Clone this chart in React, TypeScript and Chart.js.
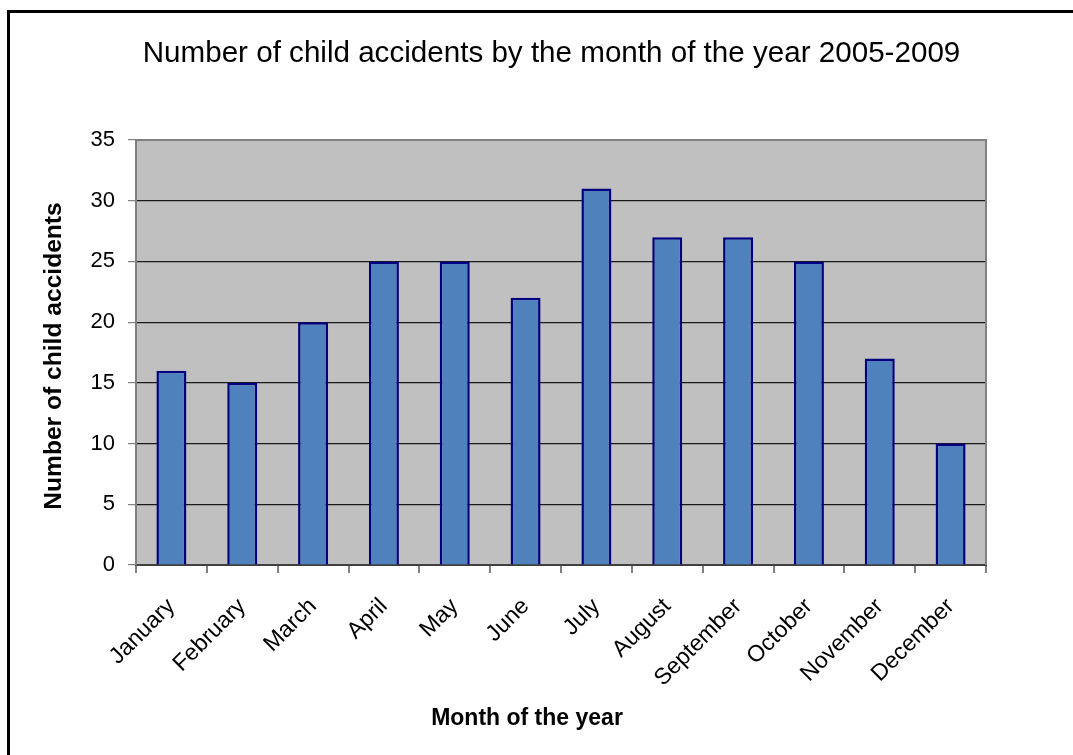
import React, { useEffect, useRef } from "react";
import { Chart, registerables } from "chart.js";

Chart.register(...registerables);

const months = ["January", "February", "March", "April", "May", "June", "July", "August", "September", "October", "November", "December"];
const accidents = [16, 15, 20, 25, 25, 22, 31, 27, 27, 25, 17, 10];
const yTicks = [0, 5, 10, 15, 20, 25, 30, 35];
const chartTitle = "Number of child accidents by the month of the year 2005-2009";
const xTitle = "Month of the year";
const yTitle = "Number of child accidents";

const FONT = "'Liberation Sans', Arial, sans-serif";

const decor = {
  id: "decor",
  beforeDraw(chart: any) {
    const { ctx, chartArea: a } = chart;
    ctx.save();
    ctx.fillStyle = "#ffffff";
    ctx.fillRect(0, 0, chart.width, chart.height);
    ctx.fillStyle = "#C0C0C0";
    ctx.fillRect(a.left, a.top, a.right - a.left, a.bottom - a.top);
    ctx.restore();
  },
  afterDraw(chart: any) {
    const { ctx, chartArea: a } = chart;
    ctx.save();
    // plot border
    ctx.strokeStyle = "#808080";
    ctx.lineWidth = 2;
    ctx.beginPath();
    ctx.moveTo(a.left, a.top);
    ctx.lineTo(a.right, a.top);
    ctx.lineTo(a.right, a.bottom);
    ctx.stroke();
    // outer frame (left & top)
    ctx.strokeStyle = "#000000";
    ctx.lineWidth = 3;
    ctx.beginPath();
    ctx.moveTo(8.5, chart.height + 5);
    ctx.lineTo(8.5, 11.5);
    ctx.lineTo(chart.width + 5, 11.5);
    ctx.stroke();
    // titles
    ctx.fillStyle = "#000000";
    ctx.textAlign = "center";
    ctx.textBaseline = "middle";
    ctx.font = `29.6px ${FONT}`;
    ctx.fillText(chartTitle, 551.5, 54);
    ctx.font = `bold 23px ${FONT}`;
    ctx.fillText(xTitle, 527, 719);
    ctx.translate(54, 356);
    ctx.rotate(-Math.PI / 2);
    ctx.font = `bold 24.6px ${FONT}`;
    ctx.fillText(yTitle, 0, 0);
    ctx.restore();
  },
};

export default function App() {
  const ref = useRef<HTMLCanvasElement>(null);
  useEffect(() => {
    if (!ref.current) return;
    const chart = new Chart(ref.current, {
      type: "bar",
      data: {
        labels: months,
        datasets: [
          {
            data: accidents,
            backgroundColor: "#4F81BD",
            borderColor: "#000080",
            borderWidth: 2.5,
            categoryPercentage: 1,
            barPercentage: 0.4235,
          },
        ],
      },
      options: {
        animation: false,
        responsive: false,
        devicePixelRatio: 1,
        layout: { padding: { left: 0, top: 140, right: 87, bottom: 0 } },
        plugins: { legend: { display: false }, title: { display: false }, tooltip: { enabled: false } },
        scales: {
          x: {
            offset: true,
            afterFit: (s: any) => { s.height = 190; },
            grid: { offset: true, drawOnChartArea: false, drawTicks: true, tickLength: 8, tickColor: "#808080", lineWidth: 2 },
            border: { color: "#404040", width: 2 },
            ticks: {
              color: "#000",
              font: { family: FONT, size: 23 },
              minRotation: 45,
              maxRotation: 45,
              padding: 20,
              autoSkip: false,
            },
          },
          y: {
            min: 0,
            max: 35,
            afterFit: (s: any) => { s.width = 136; },
            afterBuildTicks: (s: any) => { s.ticks = yTicks.map((v) => ({ value: v })); },
            grid: {
              color: (c: any) => (c.tick && (c.tick.value === 0 || c.tick.value === 35) ? "rgba(0,0,0,0)" : "#1a1a1a"),
              tickColor: "#808080",
              tickLength: 8,
              lineWidth: 1.2,
            },
            border: { color: "#808080", width: 2 },
            ticks: { color: "#000", font: { family: FONT, size: 22 }, padding: 13 },
          },
        },
      },
      plugins: [decor],
    });
    return () => chart.destroy();
  }, []);
  return (
    <div style={{ position: "absolute", left: 0, top: 0, width: 1073, height: 755 }}>
      <canvas ref={ref} width={1073} height={755} style={{ display: "block" }} />
    </div>
  );
}
